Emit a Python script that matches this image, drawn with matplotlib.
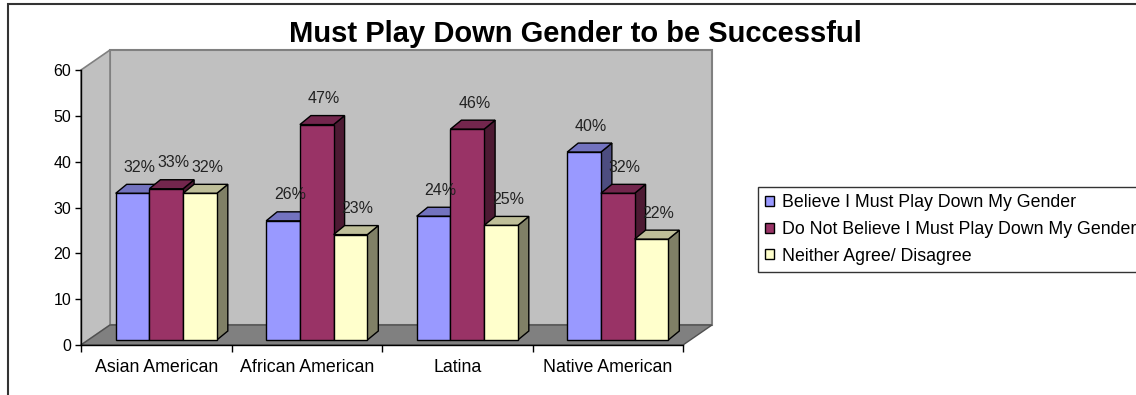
import matplotlib
matplotlib.use('Agg')
import matplotlib.pyplot as plt
import matplotlib.colors as mcolors
from matplotlib.patches import Polygon, Patch, Rectangle
import numpy as np

plt.rcParams['font.family'] = ['Liberation Sans', 'DejaVu Sans']

# data
title = 'Must Play Down Gender to be Successful'
categories = ['Asian American', 'African American', 'Latina', 'Native American']
series_names = ['Believe I Must Play Down My Gender',
                'Do Not Believe I Must Play Down My Gender',
                'Neither Agree/ Disagree']
believe = [32, 26, 27, 41]
not_believe = [33, 47, 46, 32]
neither = [32, 23, 25, 22]
believe_lbl = ['32%', '26%', '24%', '40%']
not_believe_lbl = ['33%', '47%', '46%', '32%']
neither_lbl = ['32%', '23%', '25%', '22%']
y_ticks = [0, 10, 20, 30, 40, 50, 60]

colors = ['#9999FF', '#993366', '#FFFFCC']


def shade(c, f):
    r, g, b = mcolors.to_rgb(c)
    return (r * f, g * f, b * f)


W, H = 1136, 395
fig = plt.figure(figsize=(W / 100, H / 100), dpi=100)
ax_left, ax_bottom, ax_w, ax_h = 81, 50, 602, 275
ax = fig.add_axes([ax_left / W, ax_bottom / H, ax_w / W, ax_h / H])
ax.set_xlim(-0.5, len(categories) - 0.5)
ax.set_ylim(0, 60)
ax.patch.set_visible(False)

# pixel -> data unit conversion for the fake 3D depth
px_x = len(categories) / ax_w
px_y = 60 / ax_h


def pt(x, y, dx, dy):
    return (x + dx * px_x, y + dy * px_y)


x0, x1 = -0.5, len(categories) - 0.5
wall = (29, 20)
# back wall, side wall, floor
ax.add_patch(Polygon([pt(x0, 0, *wall), pt(x1, 0, *wall), pt(x1, 60, *wall), pt(x0, 60, *wall)],
                     closed=True, fc='#C0C0C0', ec='#808080', lw=1.5, zorder=0.5, clip_on=False))
ax.add_patch(Polygon([(x0, 0), pt(x0, 0, *wall), pt(x0, 60, *wall), (x0, 60)],
                     closed=True, fc='#C0C0C0', ec='#808080', lw=1.2, zorder=0.6, clip_on=False))
ax.add_patch(Polygon([(x0, 0), (x1, 0), pt(x1, 0, *wall), pt(x0, 0, *wall)],
                     closed=True, fc='#808080', ec='#505050', lw=1, zorder=0.7, clip_on=False))

# bars
bw = 0.224
front = (10, 5)
depth = (11, 9)
series = [(believe, believe_lbl), (not_believe, not_believe_lbl), (neither, neither_lbl)]
xc = np.arange(len(categories))
for j, (vals, lbls) in enumerate(series):
    xl = xc - 1.5 * bw + j * bw + front[0] * px_x
    base = front[1] * px_y
    z = 2 + j
    ax.bar(xl, vals, width=bw, bottom=base, align='edge', color=colors[j],
           edgecolor='black', linewidth=1, zorder=z + 0.2, clip_on=False)
    for i, v in enumerate(vals):
        xr = xl[i] + bw
        top = base + v
        ax.add_patch(Polygon([(xr, base), (xr, top), pt(xr, top, *depth), pt(xr, base, *depth)],
                             closed=True, fc=shade(colors[j], 0.5), ec='black', lw=1,
                             zorder=z, clip_on=False))
        ax.add_patch(Polygon([(xl[i], top), (xr, top), pt(xr, top, *depth), pt(xl[i], top, *depth)],
                             closed=True, fc=shade(colors[j], 0.75), ec='black', lw=1,
                             zorder=z + 0.1, clip_on=False))
        ax.text(xl[i] + bw / 2 + 7 * px_x, top + 26 * px_y, lbls[i],
                ha='center', va='center', fontsize=11.5, color='#222222', zorder=10)

# axes styling
for s in ['top', 'right']:
    ax.spines[s].set_visible(False)
for s in ['left', 'bottom']:
    ax.spines[s].set_color('black')
    ax.spines[s].set_linewidth(1)
    ax.spines[s].set_zorder(1)
ax.set_yticks(y_ticks)
ax.tick_params(axis='y', direction='out', length=4, width=1, labelsize=11.5, pad=3, colors='black')
ax.set_xticks(xc)
ax.set_xticklabels(categories, fontsize=12.8)
ax.set_xticks(np.arange(len(categories) + 1) - 0.5, minor=True)
ax.tick_params(axis='x', which='major', length=0, pad=10)
ax.tick_params(axis='x', which='minor', direction='out', length=5, width=1)

fig.text(575.5 / W, 1 - 34 / H, title, ha='center', va='center',
         fontsize=21, fontweight='bold')

# outer chart border (partly cropped)
fig.add_artist(Rectangle((8 / W, -0.5), 2, 1 - 4 / H + 0.5, transform=fig.transFigure,
                         fill=False, ec='#333333', lw=1.5))

handles = [Patch(fc=c, ec='black', lw=1) for c in colors]
leg = fig.legend(handles, series_names, loc='upper left',
                 bbox_to_anchor=(758 / W, 1 - 187 / H), fontsize=12.8, frameon=True,
                 fancybox=False, edgecolor='black', handlelength=0.5, handleheight=0.5,
                 handletextpad=0.45, borderpad=0.42, labelspacing=0.54, borderaxespad=0)
leg.get_frame().set_linewidth(1)

fig.savefig('out.png', dpi=100)
